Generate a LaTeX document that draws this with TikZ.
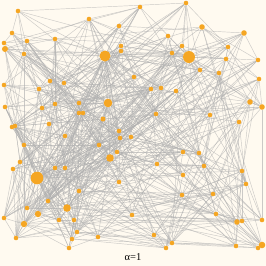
\documentclass[tikz,border=0pt]{standalone}
\usepackage{fontspec}
\setmainfont{Liberation Serif}
\pgfdeclarelayer{bg}
\pgfsetlayers{bg,main}
\definecolor{bgc}{RGB}{255,250,240}
\definecolor{nodec}{RGB}{245,166,35}
\definecolor{edgec}{RGB}{176,176,176}
\begin{document}
\begin{tikzpicture}[x=1pt,y=-1pt,
  dot/.style={circle,fill=nodec,inner sep=0pt,draw=none},
  edge/.style={draw=edgec,line width=0.45pt,opacity=0.65}]
\useasboundingbox (0,0) rectangle (266,266);
\foreach \x/\y/\r/\w [count=\k from 0] in {
18/11/2.3/10, 89/19/2.3/10, 119/26/2.3/10, 12/33/2.3/10, 4/43/2.3/10, 5/49/3.0/15, 27/41/2.3/10, 55/39/2.3/10, 24/54/2.3/10, 105/56/5.5/37,
121/46/2.3/10, 121/51/2.3/10, 4/85/2.3/10, 50/81/2.3/10, 64/83/2.3/10, 39/89/2.3/10, 5/107/2.3/10, 42/108/2.3/10, 55/104/2.3/10, 79/103/2.3/10,
108/103/4.3/26, 79/113/2.3/10, 83/113/2.3/10, 103/119/2.5/11, 49/124/2.3/10, 12/127/2.3/10, 15/126/2.3/10, 119/131/2.3/10, 134/77/2.3/10, 140/7/2.3/10,
186/3/2.3/10, 202/27/2.8/13, 244/33/2.8/13, 168/36/2.3/10, 182/46/2.3/10, 172/53/2.3/10, 189/57/6.0/42, 228/47/2.3/10, 226/59/2.3/10, 258/60/2.3/10,
200/70/2.3/10, 219/73/2.3/10, 259/79/2.3/10, 151/89/2.3/10, 161/88/2.3/10, 176/91/2.3/10, 250/102/2.8/13, 262/107/2.8/13, 156/114/2.3/10, 210/115/2.3/10,
239/122/2.3/10, 65/136/2.3/10, 24/145/2.3/10, 99/145/2.3/10, 20/162/2.3/10, 13/169/2.3/10, 110/158/3.8/21, 117/152/2.3/10, 55/168/2.3/10, 65/168/2.3/10,
37/178/6.3/45, 119/182/2.3/10, 79/191/2.3/10, 48/201/2.3/10, 67/208/3.8/21, 27/208/2.3/10, 38/214/3.2/16, 4/218/2.3/10, 24/224/3.2/16, 59/220/2.3/10,
74/220/2.3/10, 77/232/2.3/10, 72/239/2.3/10, 98/237/2.3/10, 16/238/2.3/10, 69/248/2.3/10, 132/215/2.3/10, 183/152/2.3/10, 199/153/2.3/10, 157/164/2.3/10,
204/166/2.3/10, 242/171/2.3/10, 183/175/2.3/10, 246/184/2.3/10, 182/195/2.3/10, 213/194/2.3/10, 216/214/2.3/10, 237/222/2.8/13, 242/221/2.3/10, 262/220/2.3/10,
154/235/2.3/10, 172/243/2.3/10, 166/248/2.3/10, 236/246/2.3/10, 262/245/3.3/17, 258/248/2.3/10, 120/138/2.3/10, 131/137/2.3/10}{
  \pgfmathsetmacro\dd{2*\r}
  \node[dot,minimum size=\dd pt] (n\k) at (\x,\y) {};
  \expandafter\xdef\csname px\k\endcsname{\x}
  \expandafter\xdef\csname py\k\endcsname{\y}
  \expandafter\xdef\csname pw\k\endcsname{\w}
}
\begin{pgfonlayer}{bg}
\fill[bgc] (0,0) rectangle (266,266);
\pgfmathsetseed{12}
\foreach \i in {0,...,96}{
  \pgfmathtruncatemacro\ii{\i+1}
  \edef\xa{\csname px\i\endcsname}
  \edef\ya{\csname py\i\endcsname}
  \edef\wa{\csname pw\i\endcsname}
  \foreach \j in {\ii,...,97}{
    \edef\dx{\the\numexpr\csname px\j\endcsname-\xa\relax}
    \edef\dy{\the\numexpr\csname py\j\endcsname-\ya\relax}
    \edef\pp{\the\numexpr 28*\wa*\csname pw\j\endcsname*80/(80+(\dx*\dx+\dy*\dy)/100)\relax}
    \pgfmathrandominteger{\uu}{0}{9999}
    \ifnum\uu<\pp\relax \draw[edge] (n\i) -- (n\j); \fi
  }
}
\end{pgfonlayer}
\node[font=\fontsize{10.5}{12}\selectfont] (lab) at (133,257) {α=1};
\end{tikzpicture}
\end{document}
